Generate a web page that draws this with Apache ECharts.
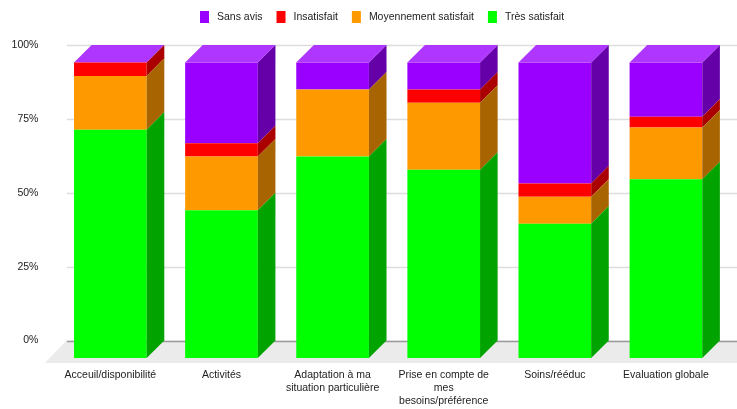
<!DOCTYPE html>
<html>
<head>
<meta charset="utf-8">
<script src="https://cdn.jsdelivr.net/npm/echarts@6/dist/echarts.min.js"></script>
<style>
  html, body { margin: 0; padding: 0; background: #fff; }
  #chart { width: 737px; height: 409px; }
</style>
</head>
<body>
<div id="chart"></div>
<script>
// Satisfaction survey results, share of answers (%) per topic
const categories = [
  'Acceuil/disponibilité',
  'Activités',
  'Adaptation à ma\nsituation particulière',
  'Prise en compte de\nmes\nbesoins/préférence',
  'Soins/rééduc',
  'Evaluation globale'
];
const tresSatisfait = [77.3, 50.0, 68.2, 63.7, 45.5, 60.5];
const moyennementSatisfait = [18.2, 18.2, 22.7, 22.7, 9.1, 17.5];
const insatisfait = [4.5, 4.5, 0, 4.5, 4.5, 3.7];
const sansAvis = [0, 27.3, 9.1, 9.1, 40.9, 18.3];
const yTicks = [0, 25, 50, 75, 100];

const FONT = 'Arial, "Liberation Sans", sans-serif';
const DEPTH = 17.6;       // 3D extrusion offset (px)
const BAR_RATIO = 0.654;  // bar width / category band

// stack from bottom to top
const stack = [
  { name: 'Très satisfait', values: tresSatisfait, color: '#00ff00', side: '#00a300' },
  { name: 'Moyennement satisfait', values: moyennementSatisfait, color: '#ff9900', side: '#a86400' },
  { name: 'Insatisfait', values: insatisfait, color: '#ff0000', side: '#ab0000' },
  { name: 'Sans avis', values: sansAvis, color: '#9900ff', side: '#6500a8', top: '#ae36ff' }
];

// cumulative [category, low, high] ranges for each layer
const cumul = categories.map(() => 0);
stack.forEach(layer => {
  layer.data = layer.values.map((v, i) => {
    const lo = cumul[i];
    cumul[i] = +(lo + v).toFixed(2);
    return [i, lo, cumul[i]];
  });
});

function boxRenderer(layer) {
  return function (params, api) {
    const c = api.value(0), lo = api.value(1), hi = api.value(2);
    const band = api.size([1, 0])[0];
    const w = band * BAR_RATIO;
    const pLo = api.coord([c, lo]);
    const pHi = api.coord([c, hi]);
    const cx = pLo[0] - DEPTH;
    const x0 = cx - w / 2, x1 = cx + w / 2;
    const yLoF = pLo[1] + DEPTH, yHiF = pHi[1] + DEPTH;
    const children = [];
    if (hi > lo) {
      children.push({
        type: 'rect',
        shape: { x: x0, y: yHiF, width: w, height: yLoF - yHiF },
        style: { fill: layer.color }
      });
      children.push({
        type: 'polygon',
        shape: { points: [[x1, yHiF], [x1 + DEPTH, pHi[1]], [x1 + DEPTH, pLo[1]], [x1, yLoF]] },
        style: { fill: layer.side }
      });
    }
    if (layer.top) {
      children.push({
        type: 'polygon',
        shape: { points: [[x0, yHiF], [x0 + DEPTH, pHi[1]], [x1 + DEPTH, pHi[1]], [x1, yHiF]] },
        style: { fill: layer.top }
      });
    }
    return { type: 'group', children };
  };
}

// floor of the 3D scene
function floorRenderer(params, api) {
  const cs = params.coordSys;
  const p0 = api.coord([0, 0]);
  const yb = p0[1];
  const xl = cs.x - 6;
  return {
    type: 'polygon',
    shape: { points: [[xl, yb], [737, yb], [737, yb + 22.5], [xl - 21.5, yb + 22.5]] },
    style: { fill: '#ebebeb' }
  };
}

// wall grid lines
function gridRenderer(params, api) {
  const cs = params.coordSys;
  const v = api.value(0);
  const y = Math.round(api.coord([0, v])[1]) + 0.5;
  return {
    type: 'line',
    shape: { x1: cs.x - 5.4, y1: y, x2: 737, y2: y },
    style: { stroke: v === 0 ? '#9a9a9a' : '#dddddd', lineWidth: 1.5 }
  };
}

const legendOrder = ['Sans avis', 'Insatisfait', 'Moyennement satisfait', 'Très satisfait'];

const series = [
  {
    type: 'custom', name: 'floor', silent: true, z: 1,
    data: [[0]], renderItem: floorRenderer
  },
  {
    type: 'custom', name: 'grid', silent: true, z: 2,
    data: yTicks.map(v => [v]), encode: { y: 0 }, renderItem: gridRenderer
  }
];
legendOrder.forEach(name => {
  const layer = stack.find(l => l.name === name);
  series.push({
    type: 'custom',
    name: layer.name,
    z: 3,
    itemStyle: { color: layer.color },
    encode: { x: 0, y: [1, 2] },
    data: layer.data,
    renderItem: boxRenderer(layer)
  });
});

const chart = echarts.init(document.getElementById('chart'), null, { renderer: 'canvas' });
chart.setOption({
  animation: false,
  backgroundColor: '#ffffff',
  textStyle: { fontFamily: FONT },
  legend: {
    data: legendOrder.map(n => ({ name: n, itemStyle: { color: stack.find(l => l.name === n).color } })),
    left: 195,
    top: 6,
    icon: 'rect',
    itemWidth: 9,
    itemHeight: 12,
    itemGap: 14,
    selectedMode: false,
    textStyle: { fontFamily: FONT, fontSize: 10.5, color: '#222', padding: [0, 0, 0, 3] }
  },
  grid: {
    left: 72.4, width: 666.7, top: 45, height: 295.5,
    containLabel: false, outerBoundsMode: 'none'
  },
  xAxis: {
    type: 'category',
    data: categories,
    axisLine: { show: false },
    axisTick: { show: false },
    splitLine: { show: false },
    axisLabel: {
      interval: 0,
      margin: 28,
      fontFamily: FONT,
      fontSize: 10.5,
      lineHeight: 13,
      color: '#222',
      padding: [0, 35.2, 0, 0]
    }
  },
  yAxis: {
    type: 'value',
    min: 0,
    max: 100,
    interval: 25,
    axisLine: { show: false },
    axisTick: { show: false },
    splitLine: { show: false },
    axisLabel: {
      formatter: '{value}%',
      margin: 34,
      fontFamily: FONT,
      fontSize: 10.5,
      color: '#222'
    }
  },
  series
});
</script>
</body>
</html>
